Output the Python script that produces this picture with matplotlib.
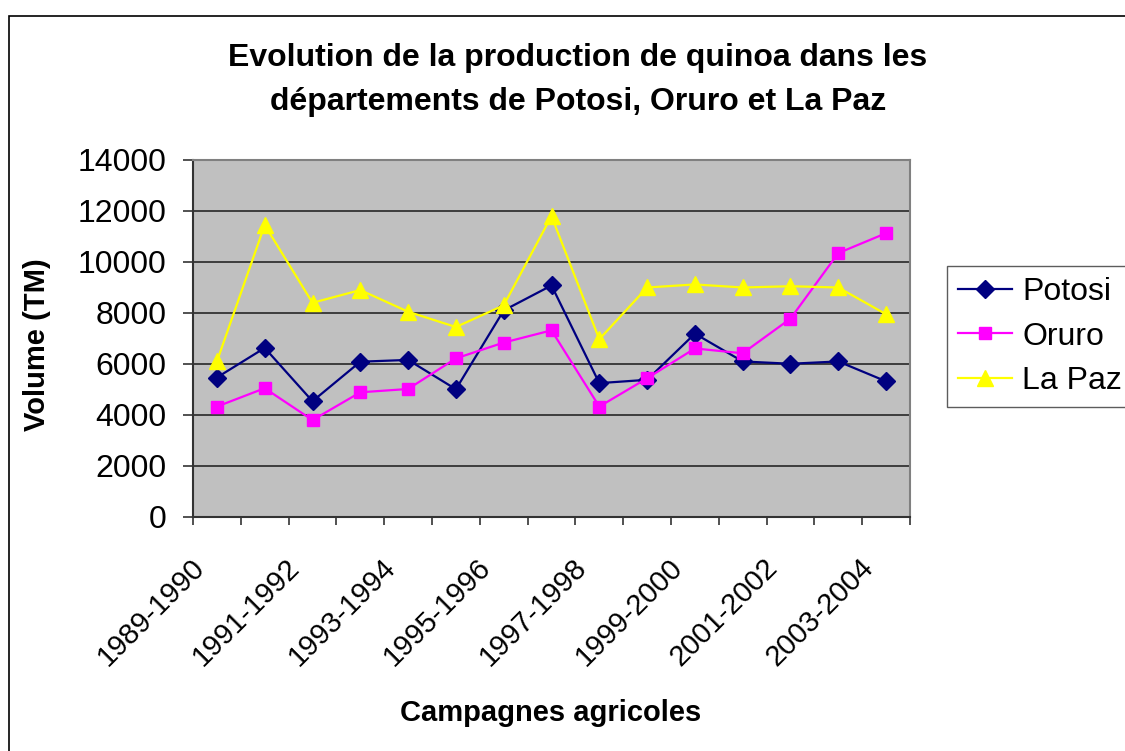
import matplotlib
matplotlib.use('Agg')
import matplotlib.pyplot as plt
import matplotlib.transforms as mtransforms
from matplotlib.patches import Rectangle
plt.rcParams['font.family'] = ['Liberation Sans', 'DejaVu Sans']

campagnes = ['1989-1990', '1990-1991', '1991-1992', '1992-1993', '1993-1994',
             '1994-1995', '1995-1996', '1996-1997', '1997-1998', '1998-1999',
             '1999-2000', '2000-2001', '2001-2002', '2002-2003', '2003-2004']
potosi = [5470, 6630, 4540, 6090, 6160, 5010, 8100, 9080,
          5250, 5380, 7190, 6100, 6010, 6100, 5320]
oruro = [4330, 5050, 3800, 4890, 5020, 6220, 6840, 7320,
         4330, 5440, 6610, 6420, 7780, 10350, 11130]
la_paz = [6100, 11450, 8400, 8900, 8050, 7450, 8300, 11800,
          6970, 9000, 9120, 9000, 9050, 9000, 7950]

fig = plt.figure(figsize=(11.25, 7.51), dpi=100)
fig.patches.append(Rectangle((9/1125, -0.1), 1.2, 1 - 16/751 + 0.1, transform=fig.transFigure,
                             fill=False, edgecolor='black', linewidth=1.2))

ax = fig.add_axes([193/1125, 1 - 517/751, 717/1125, 357/751])
ax.set_facecolor('#C0C0C0')

x = list(range(len(campagnes)))
ax.plot(x, potosi, color='#000080', marker='D', markersize=9, linewidth=1.6, label='Potosi')
ax.plot(x, oruro, color='#FF00FF', marker='s', markersize=9, linewidth=1.6, label='Oruro')
ax.plot(x, la_paz, color='#FFFF00', marker='^', markersize=11, linewidth=1.6, label='La Paz')

ax.set_xlim(-0.5, len(campagnes) - 0.5)
ax.set_ylim(0, 14000)
ax.set_yticks(range(0, 14001, 2000))
ax.yaxis.grid(True, color='#333333', linewidth=1.3)
ax.set_axisbelow(True)

# tick marks at category boundaries, labels on every other category
ax.set_xticks([i - 0.5 for i in range(len(campagnes) + 1)])
ax.set_xticklabels([])
ax.set_xticks(x[::2], minor=True)
ax.set_xticklabels(campagnes[::2], minor=True, rotation=45, ha='right', va='center',
                   rotation_mode='anchor', fontsize=21)
ax.tick_params(axis='x', which='major', length=6, width=1.2, color='#333333', direction='out')
ax.tick_params(axis='x', which='minor', length=0, pad=33)
ax.tick_params(axis='y', length=7, width=1.2, color='#333333', labelsize=23, pad=12)
shift = mtransforms.ScaledTranslation(-0.17, 0, fig.dpi_scale_trans)
for lab in ax.get_xticklabels(minor=True):
    lab.set_transform(lab.get_transform() + shift)

for s in ['top', 'right']:
    ax.spines[s].set_color('#808080')
    ax.spines[s].set_linewidth(1.5)
for s in ['left', 'bottom']:
    ax.spines[s].set_color('#333333')
    ax.spines[s].set_linewidth(1.5)

fig.text(578/1125, 1 - 80/751, 'Evolution de la production de quinoa dans les\ndépartements de Potosi, Oruro et La Paz',
         ha='center', va='center', fontsize=23, fontweight='bold', linespacing=1.58)
fig.text(37/1125, 1 - 345/751, 'Volume (TM)', rotation=90, ha='center', va='center',
         fontsize=21, fontweight='bold')
fig.text(551/1125, 1 - 713/751, 'Campagnes agricoles', ha='center', va='center',
         fontsize=21, fontweight='bold')

leg = ax.legend(loc='upper left', bbox_to_anchor=(947/1125, 1 - 266/751), bbox_transform=fig.transFigure,
                fontsize=23, frameon=True, fancybox=False, edgecolor='#333333',
                handlelength=1.7, handletextpad=0.3, labelspacing=0.45, borderpad=0.35,
                borderaxespad=0)
leg.get_frame().set_linewidth(1.0)

plt.savefig('out.png', dpi=100)
plt.close()
